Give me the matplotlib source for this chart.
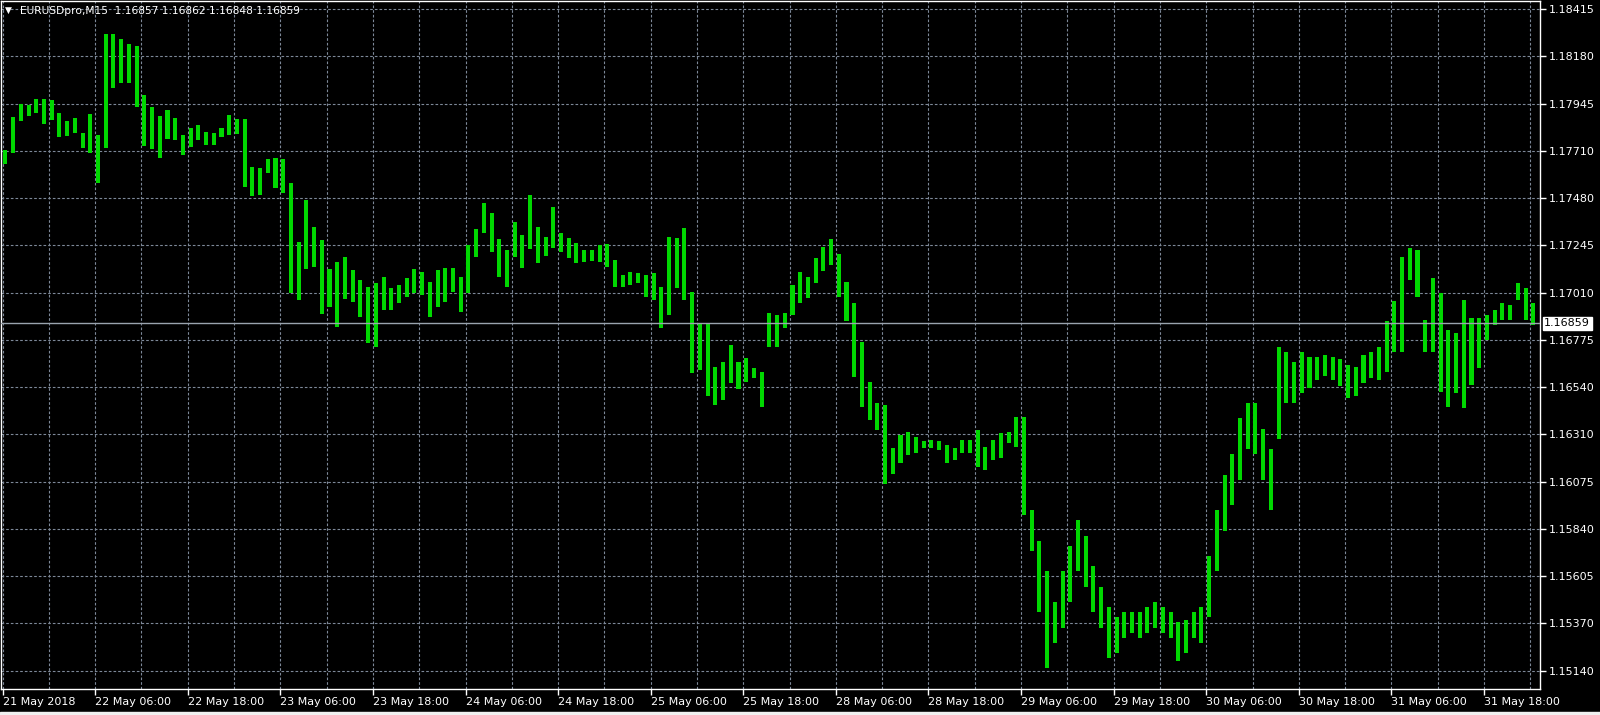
import numpy as np
import matplotlib
matplotlib.use("Agg")
import matplotlib.pyplot as plt

symbol = "EURUSDpro,M15"
last_ohlc = [1.16857, 1.16862, 1.16848, 1.16859]
bid = 1.16859

highs = [
    1.17718, 1.17881, 1.17945, 1.17940, 1.17970, 1.17970, 1.17965, 1.17901, 1.17861, 1.17876,
    1.17802, 1.17896, 1.17792, 1.18292, 1.18292, 1.18267, 1.18242, 1.18232, 1.17990, 1.17930,
    1.17886, 1.17916, 1.17876, 1.17792, 1.17826, 1.17841, 1.17807, 1.17802, 1.17826, 1.17891,
    1.17871, 1.17871, 1.17633, 1.17628, 1.17673, 1.17678, 1.17673, 1.17554, 1.17262, 1.17470,
    1.17336, 1.17272, 1.17128, 1.17163, 1.17188, 1.17124, 1.17074, 1.17039, 1.17059, 1.17089,
    1.17034, 1.17049, 1.17084, 1.17128, 1.17114, 1.17064, 1.17124, 1.17133, 1.17133, 1.17089,
    1.17247, 1.17326, 1.17455, 1.17406, 1.17277, 1.17223, 1.17361, 1.17297, 1.17495, 1.17336,
    1.17287, 1.17435, 1.17307, 1.17282, 1.17257, 1.17223, 1.17223, 1.17247, 1.17252, 1.17173,
    1.17099, 1.17114, 1.17109, 1.17099, 1.17109, 1.17039, 1.17287, 1.17282, 1.17331, 1.17015,
    1.16861, 1.16861, 1.16643, 1.16668, 1.16752, 1.16668, 1.16688, 1.16638, 1.16619, 1.16911,
    1.16901, 1.16911, 1.17049, 1.17114, 1.17089, 1.17183, 1.17237, 1.17277, 1.17203, 1.17064,
    1.16960, 1.16767, 1.16569, 1.16465, 1.16455, 1.16242, 1.16307, 1.16322, 1.16297, 1.16277,
    1.16282, 1.16277, 1.16257, 1.16242, 1.16282, 1.16282, 1.16332, 1.16247, 1.16282, 1.16317,
    1.16322, 1.16396, 1.16396, 1.15936, 1.15782, 1.15634, 1.15480, 1.15634, 1.15757, 1.15886,
    1.15807, 1.15658, 1.15554, 1.15455, 1.15406, 1.15431, 1.15431, 1.15431, 1.15455, 1.15480,
    1.15455, 1.15431, 1.15381, 1.15391, 1.15431, 1.15455, 1.15708, 1.15936, 1.16109, 1.16213,
    1.16391, 1.16465, 1.16465, 1.16336, 1.16237, 1.16742, 1.16718, 1.16668, 1.16718, 1.16693,
    1.16693, 1.16703, 1.16693, 1.16683, 1.16653, 1.16643, 1.16703, 1.16718, 1.16742, 1.16871,
    1.16970, 1.17188, 1.17232, 1.17223, 1.16876, 1.17084, 1.17010, 1.16827, 1.16812, 1.16975,
    1.16886, 1.16886, 1.16901, 1.16926, 1.16960, 1.16950, 1.17059, 1.17034, 1.16960,
]
lows = [
    1.17648, 1.17703, 1.17861, 1.17886, 1.17901, 1.17846, 1.17866, 1.17782, 1.17787, 1.17802,
    1.17727, 1.17703, 1.17554, 1.17727, 1.18024, 1.18049, 1.18049, 1.17930, 1.17737, 1.17722,
    1.17678, 1.17772, 1.17767, 1.17693, 1.17732, 1.17767, 1.17742, 1.17742, 1.17782, 1.17792,
    1.17797, 1.17534, 1.17490, 1.17495, 1.17604, 1.17529, 1.17505, 1.17010, 1.16975, 1.17128,
    1.17138, 1.16906, 1.16940, 1.16841, 1.16980, 1.16965, 1.16891, 1.16762, 1.16742, 1.16926,
    1.16926, 1.16960, 1.16990, 1.17010, 1.17000, 1.16891, 1.16940, 1.16965, 1.17015, 1.16916,
    1.17010, 1.17188, 1.17307, 1.17213, 1.17089, 1.17039, 1.17188, 1.17133, 1.17227, 1.17158,
    1.17193, 1.17232, 1.17213, 1.17183, 1.17158, 1.17163, 1.17168, 1.17163, 1.17138, 1.17039,
    1.17039, 1.17049, 1.17059, 1.16990, 1.16975, 1.16836, 1.16901, 1.17034, 1.16975, 1.16614,
    1.16629, 1.16500, 1.16455, 1.16480, 1.16564, 1.16534, 1.16569, 1.16589, 1.16445, 1.16742,
    1.16742, 1.16836, 1.16901, 1.16960, 1.16985, 1.17059, 1.17119, 1.17148, 1.16990, 1.16871,
    1.16594, 1.16445, 1.16381, 1.16332, 1.16064, 1.16114, 1.16168, 1.16208, 1.16218, 1.16242,
    1.16242, 1.16233, 1.16168, 1.16183, 1.16218, 1.16218, 1.16148, 1.16134, 1.16183, 1.16193,
    1.16267, 1.16247, 1.15911, 1.15733, 1.15431, 1.15153, 1.15277, 1.15351, 1.15480, 1.15634,
    1.15554, 1.15431, 1.15351, 1.15203, 1.15228, 1.15302, 1.15327, 1.15302, 1.15327, 1.15351,
    1.15327, 1.15302, 1.15188, 1.15228, 1.15302, 1.15277, 1.15406, 1.15634, 1.15832, 1.15960,
    1.16084, 1.16237, 1.16213, 1.16084, 1.15936, 1.16287, 1.16465, 1.16465, 1.16515, 1.16539,
    1.16579, 1.16599, 1.16579, 1.16549, 1.16490, 1.16500, 1.16564, 1.16589, 1.16579, 1.16619,
    1.16718, 1.16718, 1.17074, 1.16990, 1.16718, 1.16718, 1.16520, 1.16445, 1.16515, 1.16440,
    1.16554, 1.16638, 1.16777, 1.16851, 1.16876, 1.16876, 1.16975, 1.16876, 1.16851,
]

time_labels = ["21 May 2018", "22 May 06:00", "22 May 18:00", "23 May 06:00", "23 May 18:00",
               "24 May 06:00", "24 May 18:00", "25 May 06:00", "25 May 18:00", "28 May 06:00",
               "28 May 18:00", "29 May 06:00", "29 May 18:00", "30 May 06:00", "30 May 18:00",
               "31 May 06:00", "31 May 18:00"]
price_labels = ["1.15140", "1.15370", "1.15605", "1.15840", "1.16075", "1.16310", "1.16540",
                "1.16775", "1.17010", "1.17245", "1.17480", "1.17710", "1.17945", "1.18180",
                "1.18415"]

BG = "black"
BAR = "#00d800"
GRID = "#7d8898"
FG = "white"

highs = np.array(highs)
lows = np.array(lows)
# x axis counts M15 bars; every hourly range covers four of them
x = np.arange(len(highs)) * 4 + 1.5

fig = plt.figure(figsize=(16, 7.15), dpi=100, facecolor=BG)
ax = fig.add_axes([1 / 1600, 26 / 715, 1539 / 1600, 688 / 715], facecolor=BG)

ax.bar(x, highs - lows, bottom=lows, width=2.1, color=BAR, linewidth=0, zorder=2)
ax.axhline(bid, color="#9aa4ae", lw=1.0, zorder=3)

ax.set_xlim(-0.8, 797)
ax.set_ylim(1.15049, 1.18455)

# ticks and grid like the terminal
ax.set_xticks(np.arange(len(time_labels)) * 48, time_labels)
ax.set_xticks(np.arange(1, 34) * 24, minor=True)
for lbl in ax.get_xticklabels():
    lbl.set_ha("left")
    lbl.set_fontsize(8.3)
ax.yaxis.tick_right()
ax.set_yticks(np.linspace(float(price_labels[0]), float(price_labels[-1]), len(price_labels)),
              price_labels)
ax.tick_params(axis="both", which="major", colors=FG, labelsize=8.0, length=4, width=1,
               direction="out", pad=2)
ax.tick_params(axis="x", which="minor", length=0)
ax.set_axisbelow(True)
ax.grid(True, which="both", axis="x", color=GRID, lw=0.8, linestyle=(0, (2.4, 1.8)))
ax.grid(True, which="major", axis="y", color=GRID, lw=0.8, linestyle=(0, (2.4, 1.8)))
for sp in ax.spines.values():
    sp.set_color(FG)
    sp.set_linewidth(1.0)

# bid label on the price scale
ax.annotate(f"{bid:.5f}", xy=(1, bid), xycoords=("axes fraction", "data"),
            xytext=(3, 0), textcoords="offset points", va="center", ha="left",
            fontsize=8.0, color="black",
            bbox=dict(boxstyle="square,pad=0.15", fc="white", ec="white"))

# header line
fig.text(5 / 1600, 1 - 10 / 715, "\u25BC", color=FG, fontsize=6.5, va="center", ha="left")
header = symbol + "  " + " ".join(f"{v:.5f}" for v in last_ohlc)
fig.text(20 / 1600, 1 - 11 / 715, header, color=FG, fontsize=7.7, va="center", ha="left")

# light strip at the bottom edge of the window
fig.patches.append(plt.Rectangle((0, 0), 1, 3 / 715, transform=fig.transFigure,
                                 color="#f0f0f0", zorder=0))

fig.savefig("out.png", dpi=100, facecolor=BG)
